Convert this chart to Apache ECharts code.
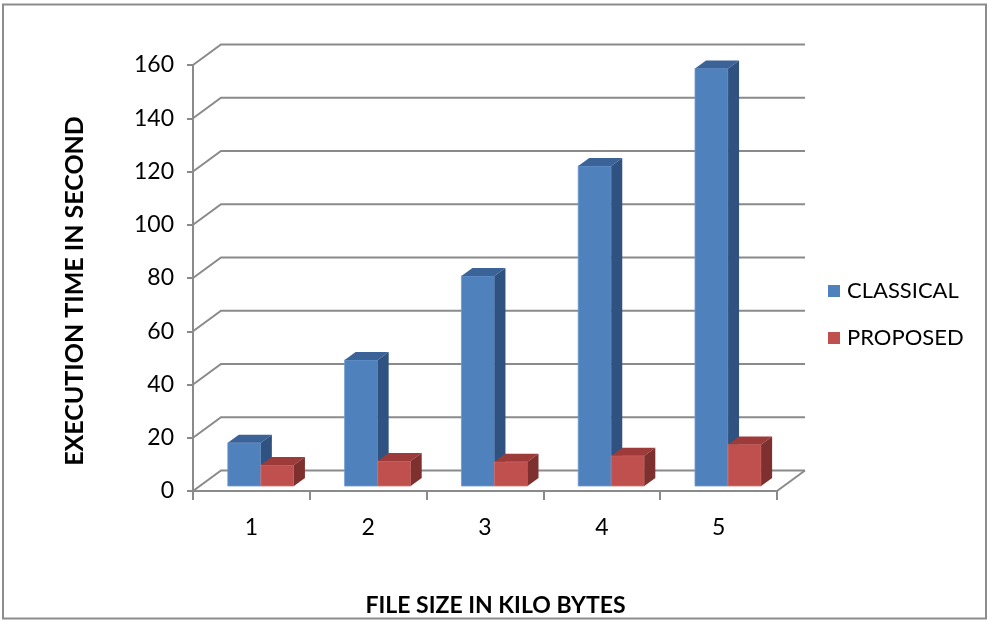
<!DOCTYPE html>
<html>
<head>
<meta charset="utf-8">
<script src="https://cdn.jsdelivr.net/npm/echarts@6/dist/echarts.min.js"></script>
<style>
  html, body { margin: 0; padding: 0; background: #ffffff; }
  #chart { width: 993px; height: 623px; }
</style>
</head>
<body>
<div id="chart"></div>
<script>
// File size categories (kilobytes)
const categories = ['1', '2', '3', '4', '5'];
// Execution time in seconds
const classical = [16.2, 47.3, 78.9, 120.2, 156.8];
const proposed = [7.9, 9.4, 9.1, 11.4, 15.6];
// Value axis ticks
const yTicks = [0, 20, 40, 60, 80, 100, 120, 140, 160];

const GRID_COLOR = '#8a8a8a';
const FONT = 'Lato, "Liberation Sans", sans-serif';

// Pseudo-3D geometry (pixels)
const WALL_DX = 28, WALL_DY = -20.5;   // depth of the back wall
const BAR_LIFT = -5;                   // bars stand slightly behind the front edge
const BAR_DX = 11, BAR_DY = -8;        // depth of each column
const BAR_FRAC = 0.283;                // column width as a fraction of the band
const BAR_START = [-0.202, 0.081];     // left edge of each series, relative to band centre

const chart = echarts.init(document.getElementById('chart'));

function columnRenderer(seriesPos, colors) {
  return function (params, api) {
    const i = api.value(0);
    const v = api.value(1);
    const base = api.coord([i, 0]);
    const top = api.coord([i, v]);
    const band = api.size([1, 0])[0];
    const w = band * BAR_FRAC;
    const x0 = base[0] + band * BAR_START[seriesPos];
    const yb = base[1] + BAR_LIFT;
    const yt = top[1] + BAR_LIFT;
    return {
      type: 'group',
      children: [
        {
          type: 'rect',
          shape: { x: x0, y: yt, width: w, height: yb - yt },
          style: { fill: colors.front, stroke: colors.edge, lineWidth: 0.8 }
        },
        {
          type: 'polygon',
          shape: { points: [[x0, yt], [x0 + BAR_DX, yt + BAR_DY], [x0 + w + BAR_DX, yt + BAR_DY], [x0 + w, yt]] },
          style: { fill: colors.top }
        },
        {
          type: 'polygon',
          shape: { points: [[x0 + w, yt], [x0 + w + BAR_DX, yt + BAR_DY], [x0 + w + BAR_DX, yb + BAR_DY], [x0 + w, yb]] },
          style: { fill: colors.side }
        }
      ]
    };
  };
}

// Back wall gridlines, their diagonals to the front axis, and the floor's right edge
function wallRenderer(params, api) {
  const v = api.value(0);
  const cs = params.coordSys;
  const left = api.coord([0, v]);
  const xl = cs.x;
  const xr = cs.x + cs.width;
  const y = left[1];
  const children = [{
    type: 'polyline',
    shape: { points: [[xl, y], [xl + WALL_DX, y + WALL_DY], [xr + WALL_DX, y + WALL_DY]] },
    style: { stroke: GRID_COLOR, lineWidth: 2, fill: null }
  }];
  if (v === 0) {
    children.push({
      type: 'line',
      shape: { x1: xr, y1: y, x2: xr + WALL_DX, y2: y + WALL_DY },
      style: { stroke: GRID_COLOR, lineWidth: 2 }
    });
  }
  return { type: 'group', children: children };
}

const option = {
  animation: false,
  backgroundColor: '#ffffff',
  graphic: [
    {
      type: 'rect',
      shape: { x: 3, y: 4.5, width: 983, height: 614 },
      style: { fill: null, stroke: '#8c8c8c', lineWidth: 2 },
      z: 100
    },
    {
      type: 'text',
      x: 75,
      y: 291,
      rotation: Math.PI / 2,
      style: {
        text: 'EXECUTION TIME IN SECOND',
        font: 'bold 25px ' + FONT,
        fill: '#000',
        align: 'center',
        verticalAlign: 'middle'
      }
    },
    {
      type: 'text',
      x: 495.5,
      y: 606,
      style: {
        text: 'FILE SIZE IN KILO BYTES',
        font: 'bold 23px ' + FONT,
        fill: '#000',
        align: 'center',
        verticalAlign: 'middle'
      }
    }
  ],
  legend: {
    orient: 'vertical',
    left: 823,
    top: 275,
    itemWidth: 12,
    itemHeight: 12,
    itemGap: 25,
    icon: 'rect',
    data: ['CLASSICAL', 'PROPOSED'],
    textStyle: { fontFamily: FONT, fontSize: 22, color: '#000', padding: [0, 0, 0, 2] }
  },
  grid: { left: 193, right: 216, top: 65, bottom: 132, containLabel: false, outerBoundsMode: 'none' },
  xAxis: {
    type: 'category',
    data: categories,
    boundaryGap: true,
    axisLine: { show: true, lineStyle: { color: GRID_COLOR, width: 2 } },
    axisTick: { show: true, length: 9, lineStyle: { color: GRID_COLOR, width: 2 } },
    axisLabel: { fontFamily: FONT, fontSize: 23, color: '#000', margin: 25 },
    splitLine: { show: false }
  },
  yAxis: {
    type: 'value',
    min: 0,
    max: 160,
    interval: 20,
    axisLine: { show: true, lineStyle: { color: GRID_COLOR, width: 2 } },
    axisTick: { show: true, length: 6, lineStyle: { color: GRID_COLOR, width: 2 } },
    axisLabel: { fontFamily: FONT, fontSize: 23, color: '#000', margin: 19 },
    splitLine: { show: false }
  },
  series: [
    {
      name: 'wall',
      type: 'custom',
      renderItem: wallRenderer,
      data: yTicks.map(t => [t]),
      encode: { y: 0 },
      silent: true,
      z: 1
    },
    {
      name: 'CLASSICAL',
      type: 'custom',
      itemStyle: { color: '#4f81bd' },
      renderItem: columnRenderer(0, { front: '#4f81bd', top: '#3c6398', side: '#2f5280', edge: '#6f9ad0' }),
      data: classical.map((v, i) => [i, v]),
      encode: { x: 0, y: 1 },
      z: 3
    },
    {
      name: 'PROPOSED',
      type: 'custom',
      itemStyle: { color: '#c0504d' },
      renderItem: columnRenderer(1, { front: '#c0504d', top: '#9c3b39', side: '#7e302e', edge: '#d37472' }),
      data: proposed.map((v, i) => [i, v]),
      encode: { x: 0, y: 1 },
      z: 3
    }
  ]
};

chart.setOption(option);
</script>
</body>
</html>
